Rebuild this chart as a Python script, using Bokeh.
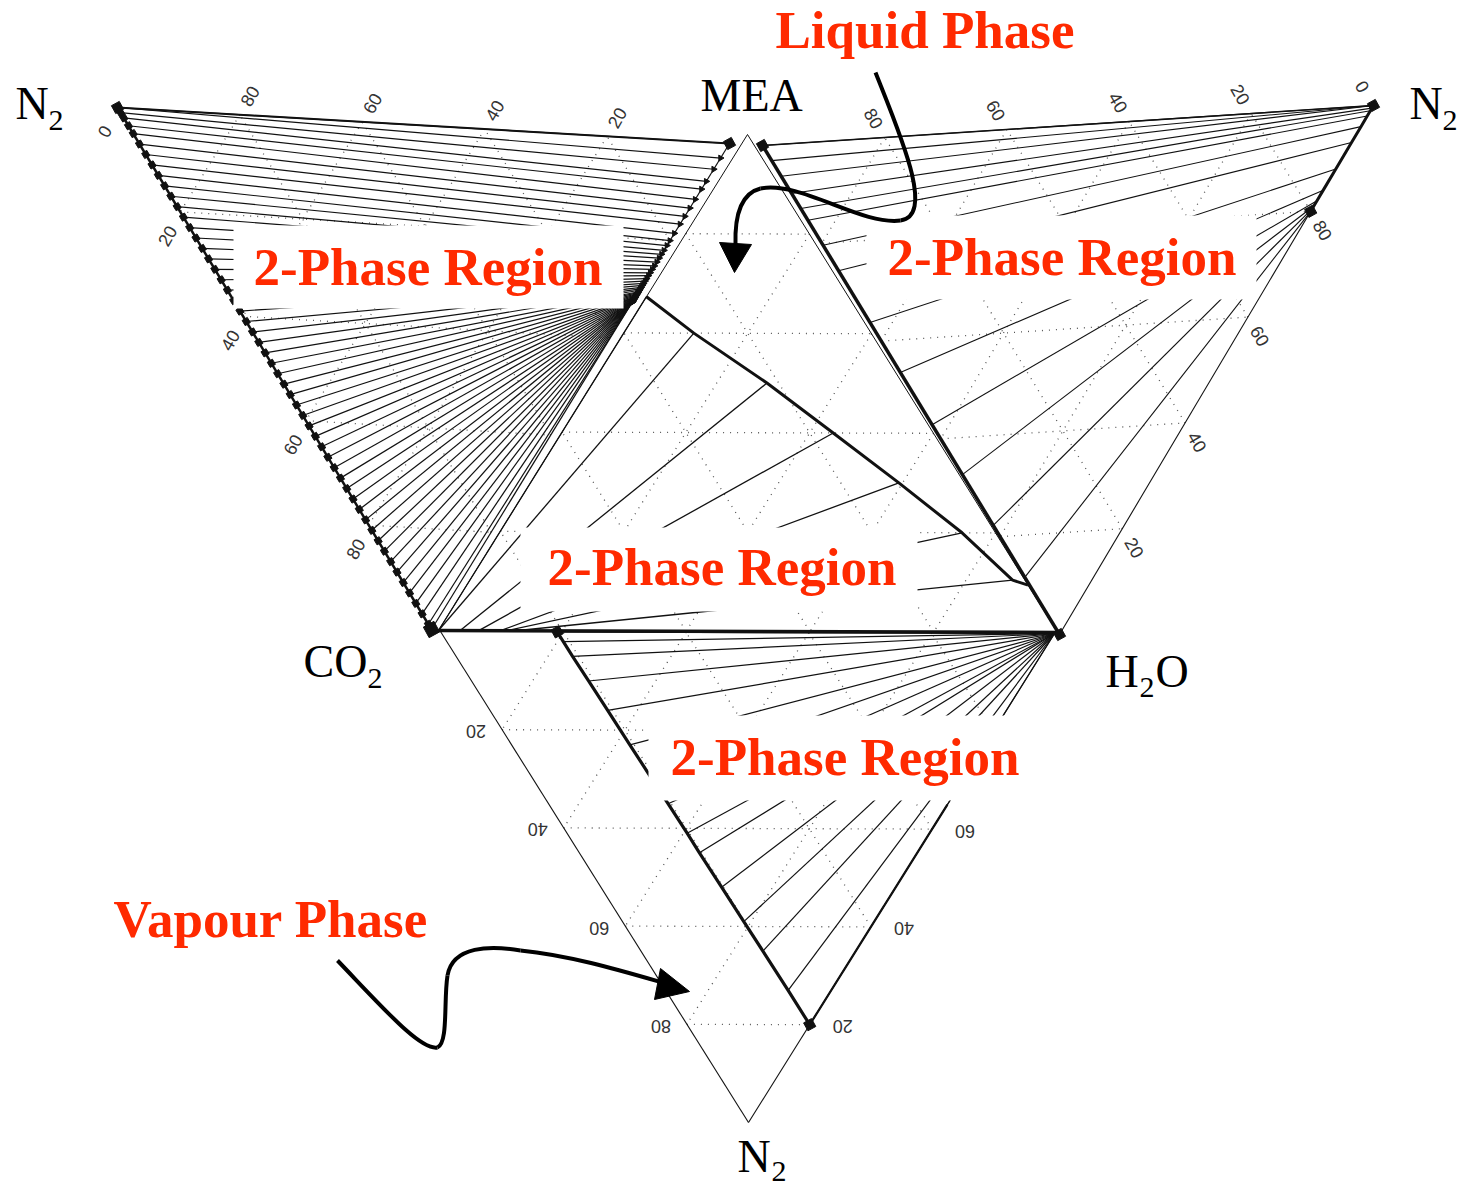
import numpy as np
from bokeh.plotting import figure
from bokeh.models import Range1d
from bokeh.core.properties import value
from bokeh.embed import file_html
from bokeh.resources import INLINE

# ---------------- data (mole fractions) ----------------
tick_values = [0, 20, 40, 60, 80]

# N2 - MEA - CO2 face: vapour on the N2-CO2 side, liquid on the MEA-CO2 side (CO2 fraction)
left_vap_co2 = [0.000, 0.000, 0.010, 0.020, 0.035, 0.050, 0.070, 0.090, 0.110, 0.130, 0.150, 0.170,
                0.190, 0.210, 0.230, 0.250, 0.270, 0.290, 0.310, 0.330, 0.350, 0.370, 0.390, 0.410,
                0.430, 0.450, 0.470, 0.490, 0.510, 0.530, 0.550, 0.570, 0.590, 0.610, 0.630, 0.650,
                0.670, 0.690, 0.710, 0.730, 0.750, 0.770, 0.790, 0.810, 0.830, 0.850, 0.870, 0.890,
                0.910, 0.930, 0.950, 0.970, 0.990]
left_liq_co2 = [0.000, 0.030, 0.053, 0.078, 0.094, 0.115, 0.133, 0.150, 0.166, 0.185, 0.200, 0.210,
                0.220, 0.228, 0.236, 0.244, 0.252, 0.259, 0.266, 0.272, 0.278, 0.283, 0.288, 0.292,
                0.296, 0.299, 0.302, 0.305, 0.307, 0.309, 0.311, 0.313, 0.315, 0.316, 0.317, 0.318,
                0.319, 0.320, 0.321, 0.322, 0.322, 0.323, 0.323, 0.324, 0.324, 0.325, 0.325, 0.325,
                0.326, 0.326, 0.326, 0.327, 0.327]

# MEA - N2 - H2O face: vapour on the N2-H2O side, liquid on the MEA-H2O side (H2O fraction)
right_vap_h2o = [0.000, 0.000, 0.000, 0.005, 0.010, 0.020, 0.040, 0.070, 0.120, 0.160, 0.180, 0.190, 0.195, 0.200]
right_liq_h2o = [0.000, 0.031, 0.063, 0.098, 0.129, 0.153, 0.204, 0.256, 0.362, 0.464, 0.571, 0.673, 0.777, 0.883]

# MEA - CO2 - H2O face: liquid boundary (MEA, H2O) and vapour ends on the CO2-H2O side
mid_liq_mea = [0.673, 0.600, 0.500, 0.400, 0.300, 0.200, 0.105, 0.095]
mid_liq_h2o = [0.000, 0.113, 0.281, 0.438, 0.594, 0.746, 0.875, 0.905]
mid_vap_h2o = [0.000, 0.000, 0.035, 0.065, 0.100, 0.110, 0.125]

# CO2 - H2O - N2 face: vapour line (N2, H2O) and water-rich liquid
bot_vap_n2 = [0.00, 0.02, 0.05, 0.10, 0.16, 0.23, 0.29, 0.35, 0.41, 0.45, 0.52, 0.59, 0.65, 0.73, 0.80]
bot_vap_h2o = [0.190, 0.190, 0.190, 0.191, 0.192, 0.193, 0.194, 0.195, 0.196, 0.196, 0.197, 0.198, 0.199, 0.200, 0.200]
bot_liq_h2o = [1.0, 1.0, 1.0, 1.0, 1.0, 1.0, 1.0, 1.0, 1.0, 1.0, 1.0, 1.0, 1.0, 1.0, 1.0]

# ---------------- layout: unfolded tetrahedron, vertex positions in page pixels ----------------
LEFT = {"N2": (117, 107), "MEA": (729, 143), "CO2": (431, 629)}
MID = {"MEA": (747, 134), "CO2": (438, 630), "H2O": (1057, 632)}
RIGHT = {"MEA": (762, 145), "N2": (1373, 105), "H2O": (1059, 634)}
BOT = {"CO2": (440, 631), "H2O": (1054, 633), "N2": (748, 1122)}


def place(face, **comp):
    """composition (fractions keyed by component) -> page x, y"""
    n = max(np.size(v) for v in comp.values())
    x = np.zeros(n)
    y = np.zeros(n)
    for k, v in comp.items():
        vx, vy = face[k]
        x = x + np.asarray(v, float) * vx
        y = y + np.asarray(v, float) * vy
    return x, y


p = figure(width=1458, height=1191, x_range=Range1d(0, 1458), y_range=Range1d(1191, 0),
           x_axis_type=None, y_axis_type=None, output_backend="svg", toolbar_location=None,
           min_border=0, outline_line_color=None,
           background_fill_color="white", border_fill_color="white")
p.grid.visible = False

INK = "#111111"


def face_grid(face):
    keys = list(face)
    xs, ys = [], []
    for i, k in enumerate(keys):
        o1, o2 = keys[(i + 1) % 3], keys[(i + 2) % 3]
        for v in tick_values[1:]:
            f = v / 100
            x1, y1 = place(face, **{k: 1 - f, o1: f})
            x2, y2 = place(face, **{k: 1 - f, o2: f})
            xs.append([x1[0], x2[0]])
            ys.append([y1[0], y2[0]])
    p.multi_line(xs, ys, line_color="#555555", line_width=1.3, line_dash="1 6")


def edge(face, a, b, fa=0.0, fb=1.0, **kw):
    f = np.array([fa, fb])
    x, y = place(face, **{a: 1 - f, b: f})
    p.line(x, y, line_color=INK, **kw)


def edge_labels(face, comp, other, vals, dx, dy, angle):
    f = np.array(vals, float) / 100
    x, y = place(face, **{comp: f, other: 1 - f})
    p.text(x + dx, y + dy, text=[str(v) for v in vals], angle=angle,
           text_align="center", text_baseline="middle",
           text_font=value("Liberation Sans"), text_font_size="18px", text_color="#333333")


for face in (LEFT, MID, RIGHT, BOT):
    face_grid(face)

# ---- N2 - MEA - CO2 face ----
s = np.array(left_vap_co2)
t = np.array(left_liq_co2)
lvx, lvy = place(LEFT, N2=1 - s, CO2=s)
llx, lly = place(LEFT, MEA=1 - t, CO2=t)
p.segment(lvx, lvy, llx, lly, line_color=INK, line_width=1.2)
edge(LEFT, "N2", "MEA", line_width=2)
edge(LEFT, "MEA", "CO2", line_width=1.2)
edge(LEFT, "N2", "CO2", line_width=2.5)
p.scatter(lvx, lvy, marker="square", size=6, angle=0.54, color=INK)
p.scatter(llx, lly, marker="triangle", size=6, angle=0.55, color=INK)

# ---- MEA - CO2 - H2O face ----
ma = np.array(mid_liq_mea)
mh = np.array(mid_liq_h2o)
mcx, mcy = place(MID, MEA=ma, H2O=mh, CO2=1 - ma - mh)
vh = np.array(mid_vap_h2o)
mvx, mvy = place(MID, H2O=vh, CO2=1 - vh)
n_mid = len(vh)
p.segment(mvx, mvy, mcx[:n_mid], mcy[:n_mid], line_color=INK, line_width=1.3)
edge(MID, "MEA", "CO2", line_width=1)
edge(MID, "MEA", "H2O", line_width=1)
p.line(mcx, mcy, line_color=INK, line_width=3)
edge(MID, "CO2", "H2O", line_width=3.5)

# ---- MEA - N2 - H2O face ----
rs = np.array(right_vap_h2o)
rt = np.array(right_liq_h2o)
rvx, rvy = place(RIGHT, N2=1 - rs, H2O=rs)
rlx, rly = place(RIGHT, MEA=1 - rt, H2O=rt)
p.segment(rvx, rvy, rlx, rly, line_color=INK, line_width=1.1)
edge(RIGHT, "MEA", "N2", line_width=1.5)
edge(RIGHT, "N2", "H2O", line_width=1.1)
edge(RIGHT, "MEA", "H2O", line_width=3.5)
p.line(rvx, rvy, line_color=INK, line_width=3)

# ---- CO2 - H2O - N2 face ----
bn = np.array(bot_vap_n2)
bh = np.array(bot_vap_h2o)
bl = np.array(bot_liq_h2o)
bvx, bvy = place(BOT, N2=bn, H2O=bh, CO2=1 - bn - bh)
blx, bly = place(BOT, H2O=bl, CO2=1 - bl)
p.segment(bvx, bvy, blx, bly, line_color=INK, line_width=1.2)
edge(BOT, "CO2", "N2", line_width=1.1)
edge(BOT, "H2O", "N2", line_width=1.1)
edge(BOT, "H2O", "N2", 0.35, 0.8, line_width=2.2)
p.line(bvx, bvy, line_color=INK, line_width=3.2)

# ---- vertex / end markers ----
mk = [place(LEFT, N2=1.0), place(LEFT, MEA=1.0), place(RIGHT, MEA=1.0), place(RIGHT, N2=1.0),
      place(RIGHT, H2O=1.0), (rvx[-1:], rvy[-1:]), (bvx[:1], bvy[:1]), (bvx[-1:], bvy[-1:])]
p.scatter([m[0][0] for m in mk], [m[1][0] for m in mk], marker="square", size=9, angle=0.5, color=INK)
cx0, cy0 = place(LEFT, CO2=1.0)
p.scatter(cx0, cy0, marker="square", size=12, angle=0.5, color=INK)

# ---- tick labels ----
rot_l, rot_r = np.pi / 3, -np.pi / 3
edge_labels(LEFT, "N2", "MEA", tick_values[1:], 10, -18.5, rot_l)
edge_labels(LEFT, "CO2", "N2", tick_values, -13, 24, rot_l)
edge_labels(RIGHT, "MEA", "N2", tick_values, -11, -19, rot_r)
edge_labels(RIGHT, "N2", "H2O", tick_values[1:], 12, 19, rot_r)
edge_labels(BOT, "N2", "CO2", tick_values[1:], -26, 2, np.pi)
edge_labels(BOT, "H2O", "N2", tick_values[1:], 33, 2, np.pi)

# ---- white panels behind the region labels ----
p.quad(left=[233, 866, 520, 648], right=[623, 1256, 917, 1040],
       top=[225, 215, 527, 715], bottom=[308, 299, 611, 800],
       fill_color="white", line_color=None)

# ---- component labels ----
serif = value("Liberation Serif")
big = dict(text_font=serif, text_font_size="46px", text_color="black",
           text_baseline="alphabetic", text_align="left")
sub = dict(text_font=serif, text_font_size="30px", text_color="black",
           text_baseline="alphabetic", text_align="left")
p.text(x=[15, 1409, 700, 303, 1105, 1155, 737], y=[103, 103, 95, 661, 671, 671, 1156],
       text=["N", "N", "MEA", "CO", "H", "O", "N"], **big)
p.text(x=[48, 1442, 367, 1139, 771], y=[120, 120, 678, 687, 1171],
       text=["2", "2", "2", "2", "2"], **sub)

# ---- region labels ----
p.text(x=[775, 253, 887, 547, 670, 113], y=[29, 266, 256, 566, 756, 918],
       text=["Liquid Phase", "2-Phase Region", "2-Phase Region", "2-Phase Region",
             "2-Phase Region", "Vapour Phase"],
       text_font=serif, text_font_style="bold", text_font_size="53px",
       text_color="#ff2a00", text_baseline="alphabetic", text_align="left")

# ---- pointer arrows ----
p.bezier(x0=[875, 900, 760], y0=[72, 220, 188], x1=[900, 760, 735], y1=[220, 188, 245],
         cx0=[900, 860, 740], cy0=[135, 225, 193], cx1=[935, 800, 734], cy1=[215, 180, 215],
         line_color="black", line_width=4)
p.patch([719, 751, 734], [242, 244, 272], fill_color="black", line_color="black")

p.bezier(x0=[337, 437, 447, 520], y0=[960, 1047, 975, 950],
         x1=[437, 447, 520, 665], y1=[1047, 975, 950, 983],
         cx0=[385, 448, 452, 570], cy0=[1010, 1042, 945, 955],
         cx1=[420, 443, 490, 620], cy1=[1050, 1000, 945, 970],
         line_color="black", line_width=4)
p.patch([660, 654, 689], [968, 999, 991], fill_color="black", line_color="black")

open("out.html", "w").write(file_html(p, INLINE))
